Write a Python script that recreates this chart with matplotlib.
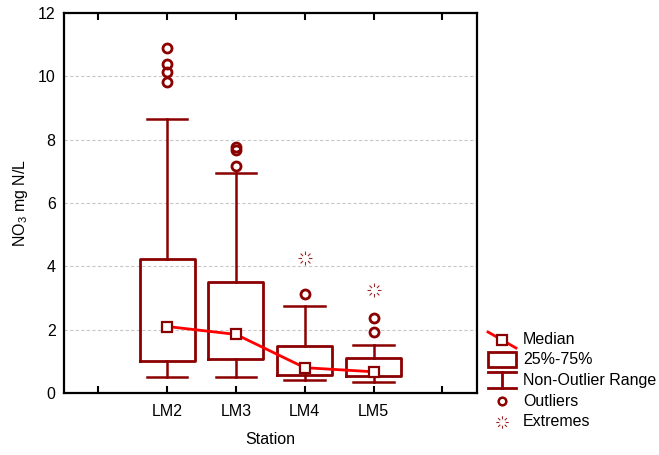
import matplotlib
matplotlib.use("Agg")
import matplotlib.pyplot as plt
from matplotlib.path import Path
from matplotlib.lines import Line2D
from matplotlib.patches import Rectangle
import numpy as np

plt.rcParams['font.family'] = ['Liberation Sans', 'DejaVu Sans']
plt.rcParams['mathtext.default'] = 'regular'

stations = ["LM2", "LM3", "LM4", "LM5"]
q1 = [1.00, 1.06, 0.57, 0.55]
q3 = [4.22, 3.50, 1.48, 1.10]
medians = [2.10, 1.85, 0.80, 0.67]
whis_lo = [0.50, 0.52, 0.41, 0.34]
whis_hi = [8.64, 6.94, 2.76, 1.51]
outliers = [[9.82, 10.15, 10.39, 10.89], [7.17, 7.67, 7.78], [3.14], [1.94, 2.37]]
extremes = [[], [], [4.25], [3.25]]
yticks = [0, 2, 4, 6, 8, 10, 12]

DR = "#8b0000"
RED = "#ff0000"
FS = 11.5

fig = plt.figure(figsize=(6.59, 4.55), dpi=100)
ax = fig.add_axes([64/659, 1-393/455, (476.7-64)/659, (393-13)/455])

pos = [1, 2, 3, 4]
stats = []
for i in range(4):
    stats.append(dict(med=medians[i], q1=q1[i], q3=q3[i], whislo=whis_lo[i],
                      whishi=whis_hi[i], fliers=[], label=stations[i]))
ax.bxp(stats, positions=pos, widths=0.8, capwidths=0.59, showfliers=False,
       boxprops=dict(color=DR, linewidth=2),
       whiskerprops=dict(color=DR, linewidth=1.8),
       capprops=dict(color=DR, linewidth=1.8),
       medianprops=dict(visible=False), manage_ticks=False)

ax.plot(pos, medians, color=RED, lw=2, marker='s', ms=6.5, mfc='white',
        mec=DR, mew=1.6, zorder=5)

for i in range(4):
    if outliers[i]:
        ax.plot([pos[i]]*len(outliers[i]), outliers[i], ls='none', marker='o',
                ms=6.5, mfc='none', mec=DR, mew=2, zorder=6)

# extremes marker: radial dashes
verts, codes = [], []
for a in np.linspace(0, 2*np.pi, 8, endpoint=False):
    c, s = np.cos(a), np.sin(a)
    verts += [(0.5*c, 0.5*s), (1.0*c, 1.0*s)]
    codes += [Path.MOVETO, Path.LINETO]
star = Path(verts, codes)
for i in range(4):
    if extremes[i]:
        ax.plot([pos[i]]*len(extremes[i]), extremes[i], ls='none', marker=star,
                ms=10, mfc='none', mec=DR, mew=0.8, alpha=0.85, zorder=6)

ax.set_xlim(-0.5, 5.5)
ax.set_ylim(0, 12)
ax.set_xticks([0, 1, 2, 3, 4, 5])
ax.set_xticklabels([""] + stations + [""])
ax.set_yticks(yticks)
ax.tick_params(axis='x', direction='in', top=True, length=5, width=1.5, labelsize=FS, pad=8)
ax.tick_params(axis='y', direction='in', length=0, labelsize=FS, pad=6)
for sp in ax.spines.values():
    sp.set_linewidth(1.6)
for y in yticks[1:-1]:
    ax.axhline(y, color='#c8c8c8', lw=0.8, ls=(0, (3, 2)), zorder=0)
ax.set_ylabel("NO$_3$ mg N/L", fontsize=FS, labelpad=6)
ax.set_xlabel("Station", fontsize=FS, labelpad=9)

# legend drawn in figure pixel coordinates
def fx(x): return x/659
def fy(y): return 1 - y/455
kw = dict(transform=fig.transFigure, fontsize=FS, va='center', ha='left')
fig.add_artist(Line2D([fx(488), fx(516)], [fy(332), fy(348)], color=RED, lw=2))
fig.add_artist(Line2D([fx(502)], [fy(340)], marker='s', ms=6.5, mfc='white', mec=DR, mew=1.6))
fig.text(fx(523), fy(340), "Median", **kw)
fig.add_artist(Rectangle((fx(488), fy(367)), fx(28), 15/455, fill=False, ec=DR, lw=2,
                         transform=fig.transFigure))
fig.text(fx(523), fy(360), "25%-75%", **kw)
fig.add_artist(Line2D([fx(488), fx(516)], [fy(372), fy(372)], color=DR, lw=2))
fig.add_artist(Line2D([fx(488), fx(516)], [fy(388), fy(388)], color=DR, lw=2))
fig.add_artist(Line2D([fx(502), fx(502)], [fy(372), fy(388)], color=DR, lw=2))
fig.text(fx(523), fy(381), "Non-Outlier Range", **kw)
fig.add_artist(Line2D([fx(502)], [fy(401)], marker='o', ms=5.5, mfc='none', mec=DR, mew=1.8))
fig.text(fx(523), fy(401), "Outliers", **kw)
fig.add_artist(Line2D([fx(502)], [fy(422)], marker=star, ms=9, mfc='none', mec=DR, mew=0.8, alpha=0.85))
fig.text(fx(523), fy(422), "Extremes", **kw)

fig.savefig("out.png", dpi=100)
